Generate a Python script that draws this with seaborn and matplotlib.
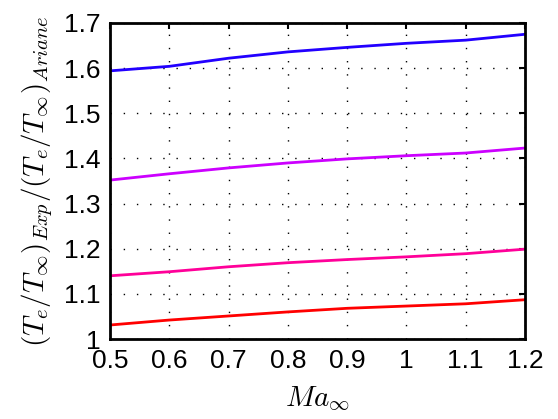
import numpy as np
import pandas as pd
import matplotlib
matplotlib.use("Agg")
import matplotlib.pyplot as plt
import seaborn as sns

mach = [0.5, 0.6, 0.7, 0.8, 0.9, 1.0, 1.1, 1.2]
series_blue = [1.594, 1.604, 1.622, 1.636, 1.646, 1.655, 1.662, 1.675]
series_purple = [1.352, 1.366, 1.379, 1.390, 1.399, 1.406, 1.412, 1.423]
series_pink = [1.140, 1.149, 1.160, 1.169, 1.176, 1.182, 1.189, 1.199]
series_red = [1.031, 1.042, 1.051, 1.060, 1.068, 1.073, 1.078, 1.087]
series_names = ["s1", "s2", "s3", "s4"]
colors = ["#2200ff", "#cc00ff", "#ff0099", "#ff0000"]
xticks = [0.5, 0.6, 0.7, 0.8, 0.9, 1.0, 1.1, 1.2]
xtick_labels = ["0.5", "0.6", "0.7", "0.8", "0.9", "1", "1.1", "1.2"]
yticks = [1.0, 1.1, 1.2, 1.3, 1.4, 1.5, 1.6, 1.7]
ytick_labels = ["1", "1.1", "1.2", "1.3", "1.4", "1.5", "1.6", "1.7"]

rows = []
for name, vals in zip(series_names, [series_blue, series_purple, series_pink, series_red]):
    for x, y in zip(mach, vals):
        rows.append({"Ma": x, "ratio": y, "series": name})
df = pd.DataFrame(rows)

sns.set_style("white")
plt.rcParams["font.family"] = ["Liberation Sans", "DejaVu Sans"]
plt.rcParams["mathtext.fontset"] = "cm"
plt.rcParams["text.color"] = "black"
plt.rcParams["axes.labelcolor"] = "black"

fig = plt.figure(figsize=(5.58, 4.19), dpi=100)
ax = fig.add_axes([110/558, 1 - 339/419, 415/558, 316/419])

sns.lineplot(data=df, x="Ma", y="ratio", hue="series", palette=colors,
             hue_order=series_names, linewidth=2, ax=ax, legend=False)

ax.set_xlim(0.5, 1.2)
ax.set_ylim(1.0, 1.7)
ax.set_xticks(xticks)
ax.set_xticklabels(xtick_labels)
ax.set_yticks(yticks)
ax.set_yticklabels(ytick_labels)
ax.tick_params(direction="in", length=4, width=1.5, labelsize=19, top=True, right=True,
               color="black", labelcolor="black", pad=7)
ax.grid(True, linestyle=(0, (1, 8.5)), color="black", linewidth=1)
for s in ax.spines.values():
    s.set_visible(True)
    s.set_color("black")
    s.set_linewidth(2)
ax.set_xlabel(r"$Ma_\infty$", fontsize=21, labelpad=9, color="black")
ax.set_ylabel(r"$(T_e/T_\infty)_{Exp}/(T_e/T_\infty)_{Ariane}$", fontsize=21, labelpad=6,
              color="black")

fig.savefig("out.png", dpi=100)
